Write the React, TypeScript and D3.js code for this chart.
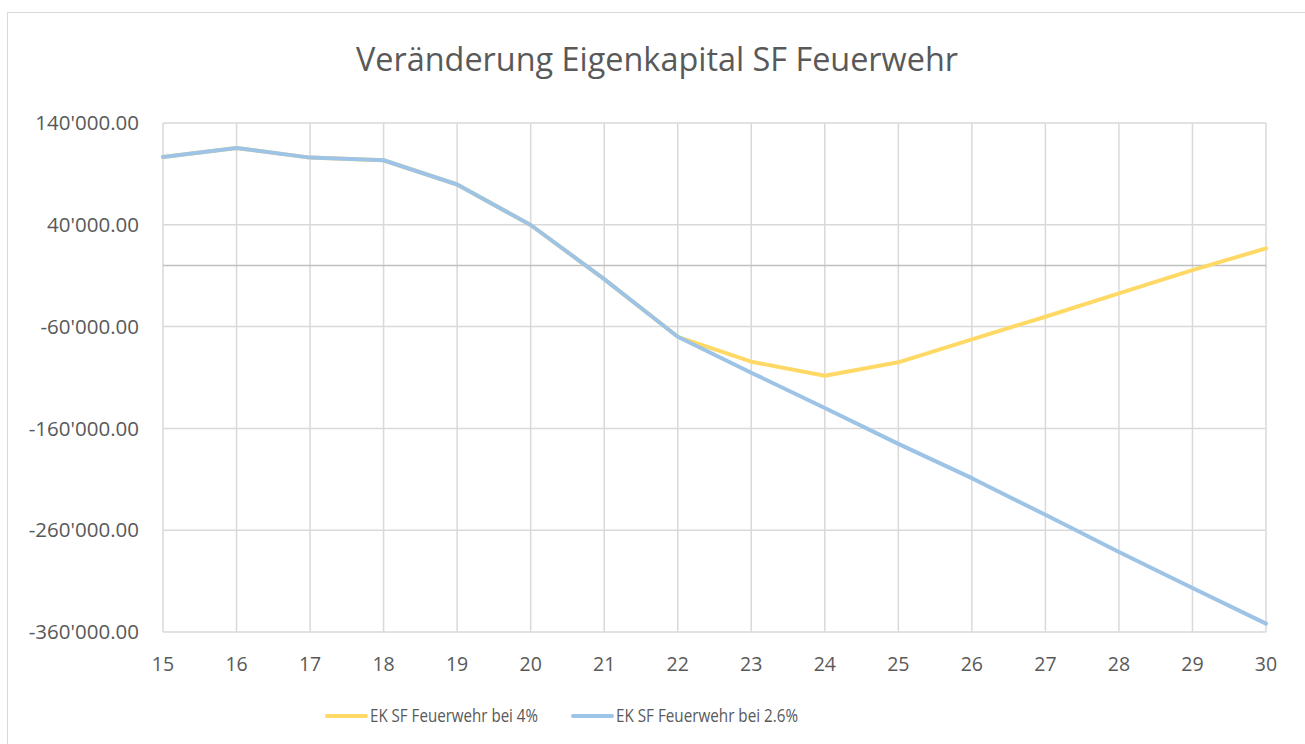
import React, { useEffect, useRef } from "react";
import * as d3 from "d3";

const width = 1305;
const height = 744;
const margin = { top: 123, right: 39, bottom: 112, left: 163 };

const years = [15, 16, 17, 18, 19, 20, 21, 22, 23, 24, 25, 26, 27, 28, 29, 30];
const ek4 = [
  106700, 115500, 106000, 103400, 79600, 39800, -13300, -70000, -94500,
  -108200, -95100, -72500, -50300, -27400, -4500, 16800,
];
const ek26 = [
  106700, 115500, 106000, 103400, 79600, 39800, -13300, -70000, -105300,
  -140000, -175200, -208900, -244900, -281500, -316800, -351800,
];
const yTicks = [140000, 40000, -60000, -160000, -260000, -360000];

const seriesNames = ["EK SF Feuerwehr bei 4%", "EK SF Feuerwehr bei 2.6%"];
const colors = ["#FFD966", "#9DC3E6"];

const font = "'Open Sans', sans-serif";
const textColor = "#595959";

export default function App() {
  const ref = useRef<SVGSVGElement>(null);

  useEffect(() => {
    const svg = d3.select(ref.current);
    svg.selectAll("*").remove();

    svg
      .append("rect")
      .attr("x", 7.5)
      .attr("y", 12.5)
      .attr("width", width)
      .attr("height", height)
      .attr("fill", "#fff")
      .attr("stroke", "#D9D9D9");

    const x = d3
      .scaleLinear()
      .domain([15, 30])
      .range([margin.left, width - margin.right]);

    const y = d3
      .scaleLinear()
      .domain([-360000, 140000])
      .range([height - margin.bottom, margin.top]);

    const fmt = (v: number) =>
      d3.format(",.2f")(v).replace(/,/g, "'").replace("−", "-");

    // grid
    svg
      .append("g")
      .attr("stroke", "#D9D9D9")
      .attr("stroke-width", 1.5)
      .call(g =>
        g
          .selectAll("line.h")
          .data(yTicks)
          .join("line")
          .attr("x1", x(15))
          .attr("x2", x(30))
          .attr("y1", d => y(d))
          .attr("y2", d => y(d))
      )
      .call(g =>
        g
          .selectAll("line.v")
          .data(years)
          .join("line")
          .attr("x1", d => x(d))
          .attr("x2", d => x(d))
          .attr("y1", y(140000))
          .attr("y2", y(-360000))
      );

    // category axis at zero
    svg
      .append("line")
      .attr("x1", x(15))
      .attr("x2", x(30))
      .attr("y1", y(0))
      .attr("y2", y(0))
      .attr("stroke", "#BFBFBF")
      .attr("stroke-width", 1.5);

    // y labels
    svg
      .append("g")
      .selectAll("text")
      .data(yTicks)
      .join("text")
      .attr("x", 139)
      .attr("y", d => y(d))
      .attr("dy", "0.35em")
      .attr("text-anchor", "end")
      .attr("font-family", font)
      .attr("font-size", 20.5)
      .attr("fill", textColor)
      .text(d => fmt(d));

    // x labels
    svg
      .append("g")
      .selectAll("text")
      .data(years)
      .join("text")
      .attr("x", d => x(d))
      .attr("y", 664)
      .attr("dy", "0.35em")
      .attr("text-anchor", "middle")
      .attr("font-family", font)
      .attr("font-size", 19.5)
      .attr("fill", textColor)
      .text(d => d);

    const line = d3
      .line<number>()
      .x((_, i) => x(years[i]))
      .y(d => y(d));

    [ek4, ek26].forEach((s, i) => {
      svg
        .append("path")
        .attr("d", line(s))
        .attr("fill", "none")
        .attr("stroke", colors[i])
        .attr("stroke-width", 4)
        .attr("stroke-linejoin", "round")
        .attr("stroke-linecap", "round");
    });

    // title
    svg
      .append("text")
      .attr("x", 657)
      .attr("y", 60)
      .attr("dy", "0.35em")
      .attr("text-anchor", "middle")
      .attr("font-family", font)
      .attr("font-size", 32.4)
      .attr("fill", textColor)
      .text("Veränderung Eigenkapital SF Feuerwehr");

    // legend
    const legendX = [327, 573];
    const legendLen = [168, 182];
    seriesNames.forEach((name, i) => {
      const g = svg.append("g").attr("transform", `translate(${legendX[i]},716)`);
      g.append("line")
        .attr("x1", 0)
        .attr("x2", 39)
        .attr("stroke", colors[i])
        .attr("stroke-width", 4)
        .attr("stroke-linecap", "round");
      g.append("text")
        .attr("x", 43)
        .attr("dy", "0.35em")
        .attr("font-family", font)
        .attr("font-size", 18)
        .attr("textLength", legendLen[i])
        .attr("lengthAdjust", "spacingAndGlyphs")
        .attr("fill", textColor)
        .text(name);
    });
  }, []);

  return (
    <svg
      ref={ref}
      width={width}
      height={height}
      style={{ position: "absolute", left: 0, top: 0 }}
    />
  );
}
